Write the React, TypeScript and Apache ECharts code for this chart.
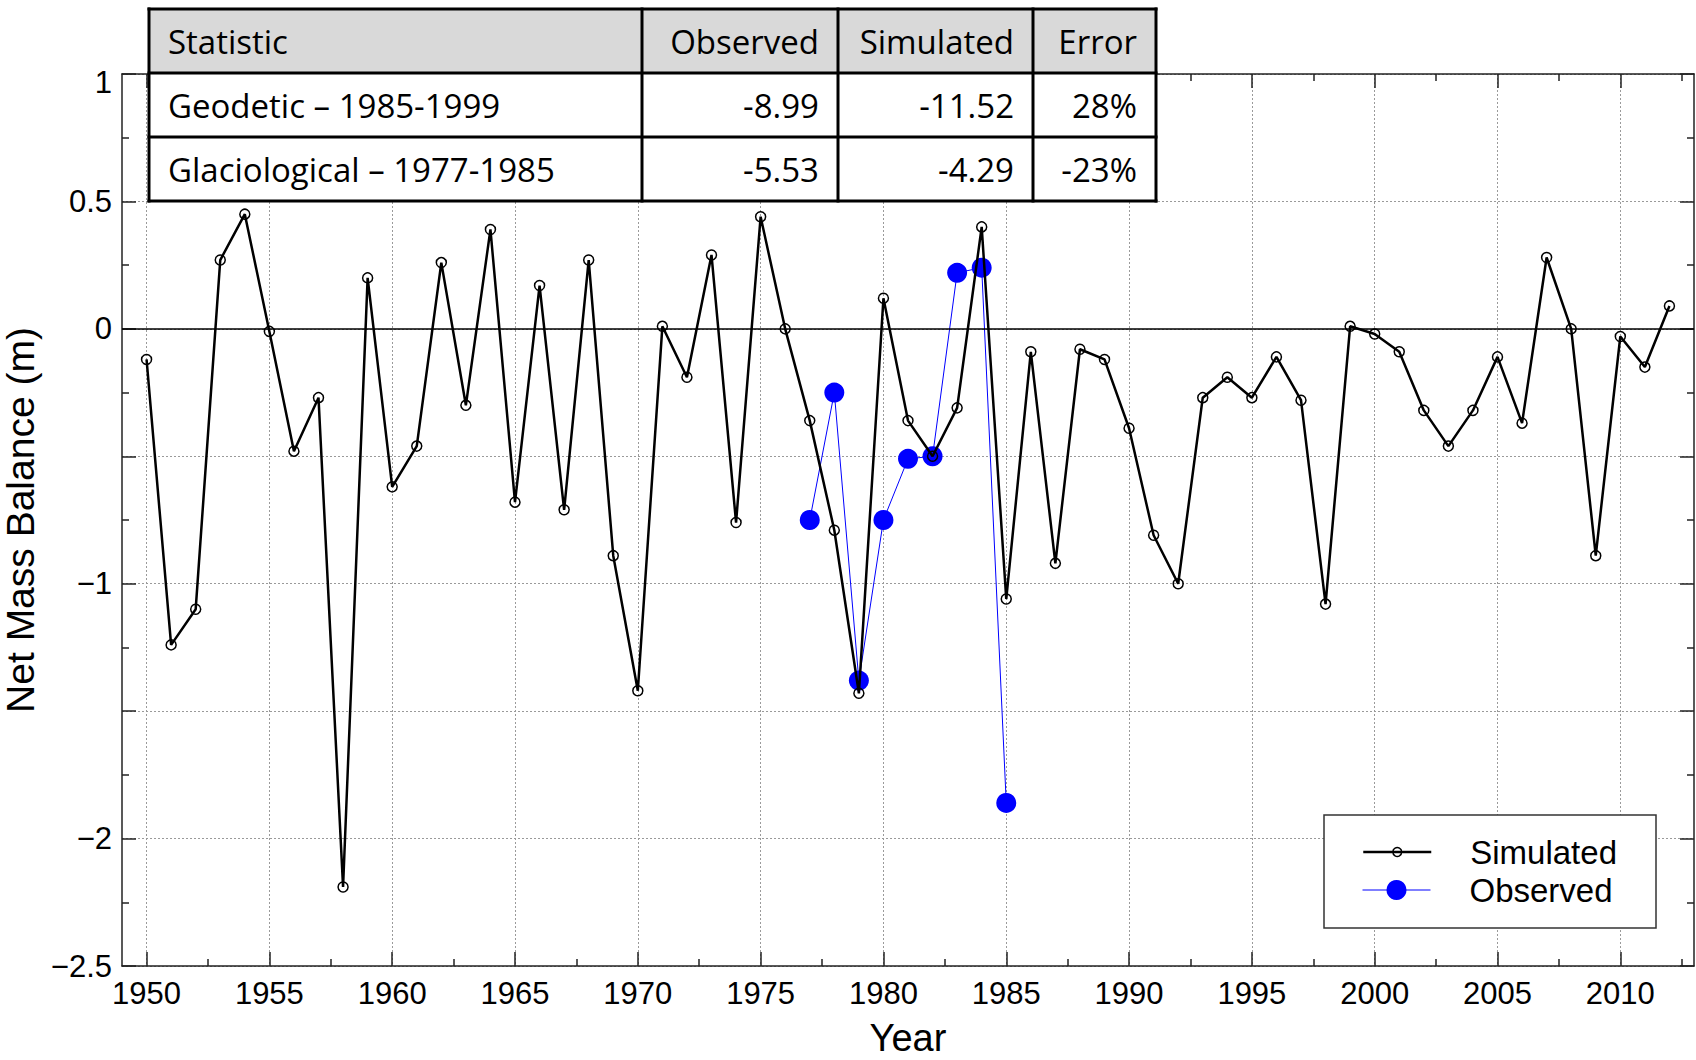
import React, { useEffect, useRef } from "react";
import * as echarts from "echarts";

// Annual net mass balance (m), simulated series
const simYears = [
  1950, 1951, 1952, 1953, 1954, 1955, 1956, 1957, 1958, 1959,
  1960, 1961, 1962, 1963, 1964, 1965, 1966, 1967, 1968, 1969,
  1970, 1971, 1972, 1973, 1974, 1975, 1976, 1977, 1978, 1979,
  1980, 1981, 1982, 1983, 1984, 1985, 1986, 1987, 1988, 1989,
  1990, 1991, 1992, 1993, 1994, 1995, 1996, 1997, 1998, 1999,
  2000, 2001, 2002, 2003, 2004, 2005, 2006, 2007, 2008, 2009,
  2010, 2011, 2012,
];
const simulated = [
  -0.12, -1.24, -1.1, 0.27, 0.45, -0.01, -0.48, -0.27, -2.19, 0.2,
  -0.62, -0.46, 0.26, -0.3, 0.39, -0.68, 0.17, -0.71, 0.27, -0.89,
  -1.42, 0.01, -0.19, 0.29, -0.76, 0.44, 0.0, -0.36, -0.79, -1.43,
  0.12, -0.36, -0.5, -0.31, 0.4, -1.06, -0.09, -0.92, -0.08, -0.12,
  -0.39, -0.81, -1.0, -0.27, -0.19, -0.27, -0.11, -0.28, -1.08, 0.01,
  -0.02, -0.09, -0.32, -0.46, -0.32, -0.11, -0.37, 0.28, 0.0, -0.89,
  -0.03, -0.15, 0.09,
];

// Glaciological observations
const obsYears = [1977, 1978, 1979, 1980, 1981, 1982, 1983, 1984, 1985];
const observed = [-0.75, -0.25, -1.38, -0.75, -0.51, -0.5, 0.22, 0.24, -1.86];

// Axis ticks
const majorYears = [1950, 1955, 1960, 1965, 1970, 1975, 1980, 1985, 1990, 1995, 2000, 2005, 2010];
const minorYears = [1952.5, 1957.5, 1962.5, 1967.5, 1972.5, 1977.5, 1982.5, 1987.5, 1992.5, 1997.5, 2002.5, 2007.5, 2012.5];
const yLabelValues = [1, 0.5, 0, -1, -2, -2.5];

// Summary table
const tableHeader = ["Statistic", "Observed", "Simulated", "Error"];
const tableRows = [
  ["Geodetic \u2013 1985-1999", "-8.99", "-11.52", "28%"],
  ["Glaciological \u2013 1977-1985", "-5.53", "-4.29", "-23%"],
];

const FONT = "Liberation Sans";
const TABLE_FONT = "Open Sans";
const AXIS_COLOR = "#222";

const colEdges = [149, 642, 838, 1033, 1156];
const rowEdges = [9, 73, 137, 201];

function buildTable(): any[] {
  const els: any[] = [];
  const x0 = colEdges[0];
  const x1 = colEdges[colEdges.length - 1];
  const y0 = rowEdges[0];
  const y1 = rowEdges[rowEdges.length - 1];
  els.push({
    type: "rect",
    shape: { x: x0, y: y0, width: x1 - x0, height: rowEdges[1] - y0 },
    style: { fill: "#d9d9d9" },
    z: 100,
  });
  els.push({
    type: "rect",
    shape: { x: x0, y: rowEdges[1], width: x1 - x0, height: y1 - rowEdges[1] },
    style: { fill: "#ffffff" },
    z: 100,
  });
  const rows = [tableHeader, ...tableRows];
  rows.forEach((row, r) => {
    const cy = (rowEdges[r] + rowEdges[r + 1]) / 2;
    row.forEach((cell, c) => {
      const leftAligned = c === 0;
      els.push({
        type: "text",
        x: leftAligned ? colEdges[c] + 19 : colEdges[c + 1] - 19,
        y: cy,
        style: {
          text: cell,
          fill: "#000",
          fontSize: 33,
          fontFamily: TABLE_FONT,
          align: leftAligned ? "left" : "right",
          verticalAlign: "middle",
        },
        z: 102,
      });
    });
  });
  colEdges.forEach((x) =>
    els.push({
      type: "line",
      shape: { x1: x, y1: y0 - 1.5, x2: x, y2: y1 + 1.5 },
      style: { stroke: "#000", lineWidth: 3 },
      z: 103,
    })
  );
  rowEdges.forEach((y) =>
    els.push({
      type: "line",
      shape: { x1: x0 - 1.5, y1: y, x2: x1 + 1.5, y2: y },
      style: { stroke: "#000", lineWidth: 3 },
      z: 103,
    })
  );
  return els;
}

const lineStyle = { color: AXIS_COLOR, width: 1.5 };
const gridLine = { show: true, lineStyle: { color: "#9a9a9a", width: 1, type: [2, 2] } };

const xBase = { type: "value", min: 1949, max: 2013, gridIndex: 0 };
const yBase = { type: "value", min: -2.5, max: 1, interval: 0.5, gridIndex: 0 };

// y tick label; the topmost one sits a little below its tick
function yLabel(v: number): string {
  const s = String(v).replace("-", "\u2212");
  return v === 1 ? `{top|${s}}` : s;
}

function buildOption(): any {
  return {
    animation: false,
    textStyle: { fontFamily: FONT },
    grid: { left: 122, right: 2, top: 74, bottom: 94, containLabel: false, outerBoundsMode: "none" },
    xAxis: [
      {
        ...xBase,
        position: "bottom",
        axisLine: { show: true, onZero: false, lineStyle },
        axisTick: { show: true, inside: true, length: 14, customValues: majorYears, lineStyle },
        axisLabel: {
          show: true,
          customValues: majorYears,
          margin: 12,
          color: "#000",
          fontSize: 31,
          fontFamily: FONT,
          formatter: (v: number) => String(v),
        },
        splitLine: gridLine,
        name: "Year",
        nameLocation: "middle",
        nameGap: 53,
        nameTextStyle: { fontSize: 38, fontFamily: FONT, color: "#000" },
      },
      {
        ...xBase,
        position: "top",
        axisLine: { show: true, onZero: false, lineStyle },
        axisTick: { show: true, inside: true, length: 14, customValues: majorYears, lineStyle },
        axisLabel: { show: false },
        splitLine: { show: false },
      },
      {
        ...xBase,
        position: "bottom",
        axisLine: { show: false, onZero: false },
        axisTick: { show: true, inside: true, length: 7, customValues: minorYears, lineStyle },
        axisLabel: { show: false },
        splitLine: { show: false },
      },
      {
        ...xBase,
        position: "top",
        axisLine: { show: false, onZero: false },
        axisTick: { show: true, inside: true, length: 7, customValues: minorYears, lineStyle },
        axisLabel: { show: false },
        splitLine: { show: false },
      },
    ],
    yAxis: [
      {
        ...yBase,
        position: "left",
        axisLine: { show: true, onZero: false, lineStyle },
        axisTick: { show: true, inside: true, length: 14, lineStyle },
        minorTick: { show: true, splitNumber: 2, length: 7, lineStyle },
        axisLabel: {
          show: true,
          customValues: yLabelValues,
          margin: 10,
          color: "#000",
          fontSize: 31,
          fontFamily: FONT,
          formatter: yLabel,
          rich: {
            top: { padding: [16, 0, 0, 0], fontSize: 31, fontFamily: FONT, color: "#000" },
          },
        },
        splitLine: gridLine,
        name: "Net Mass Balance (m)",
        nameLocation: "middle",
        nameGap: 66,
        nameTextStyle: { fontSize: 39, fontFamily: FONT, color: "#000" },
      },
      {
        ...yBase,
        position: "right",
        axisLine: { show: true, onZero: false, lineStyle },
        axisTick: { show: true, inside: true, length: 14, lineStyle },
        minorTick: { show: true, splitNumber: 2, length: 7, lineStyle },
        axisLabel: { show: false },
        splitLine: { show: false },
      },
    ],
    legend: [
      {
        data: ["Simulated"],
        orient: "vertical",
        left: 1362,
        top: 834,
        padding: 0,
        itemWidth: 68,
        itemHeight: 11,
        itemGap: 0,
        selectedMode: false,
        textStyle: { fontSize: 33, fontFamily: FONT, color: "#000", padding: [0, 0, 0, 34], lineHeight: 36 },
        lineStyle: { width: 2.5 },
        itemStyle: { borderWidth: 1.5 },
        z: 60,
      },
      {
        data: ["Observed"],
        orient: "vertical",
        left: 1362,
        top: 872,
        padding: 0,
        itemWidth: 68,
        itemHeight: 25,
        itemGap: 0,
        selectedMode: false,
        textStyle: { fontSize: 33, fontFamily: FONT, color: "#000", padding: [0, 0, 0, 34], lineHeight: 36 },
        lineStyle: { width: 1 },
        itemStyle: { borderWidth: 0 },
        z: 60,
      },
    ],
    graphic: [
      {
        type: "rect",
        shape: { x: 1324, y: 815, width: 332, height: 113 },
        style: { fill: "#ffffff", stroke: "#333", lineWidth: 1.5 },
        z: 50,
      },
      ...buildTable(),
    ],
    series: [
      {
        name: "Observed",
        type: "line",
        xAxisIndex: 0,
        yAxisIndex: 0,
        data: obsYears.map((yr, i) => [yr, observed[i]]),
        symbol: "circle",
        symbolSize: 20,
        lineStyle: { color: "#0000ff", width: 1 },
        itemStyle: { color: "#0000ff", borderWidth: 0 },
        z: 3,
        markLine: {
          silent: true,
          symbol: ["none", "none"],
          label: { show: false },
          lineStyle: { color: "#000", width: 1.5, type: "solid" },
          data: [{ yAxis: 0 }],
        },
      },
      {
        name: "Simulated",
        type: "line",
        xAxisIndex: 0,
        yAxisIndex: 0,
        data: simYears.map((yr, i) => [yr, simulated[i]]),
        symbol: "circle",
        symbolSize: 10,
        lineStyle: { color: "#000", width: 2.5 },
        itemStyle: { color: "rgba(255,255,255,0)", borderColor: "#000", borderWidth: 1.5 },
        z: 4,
      },
    ],
  };
}

export default function App() {
  const ref = useRef<HTMLDivElement>(null);
  useEffect(() => {
    if (!ref.current) return;
    const chart = echarts.init(ref.current, undefined, { renderer: "svg" });
    chart.setOption(buildOption());
    return () => chart.dispose();
  }, []);
  return (
    <div
      ref={ref}
      style={{ position: "absolute", left: 0, top: 0, width: 1696, height: 1060, background: "#fff" }}
    />
  );
}
